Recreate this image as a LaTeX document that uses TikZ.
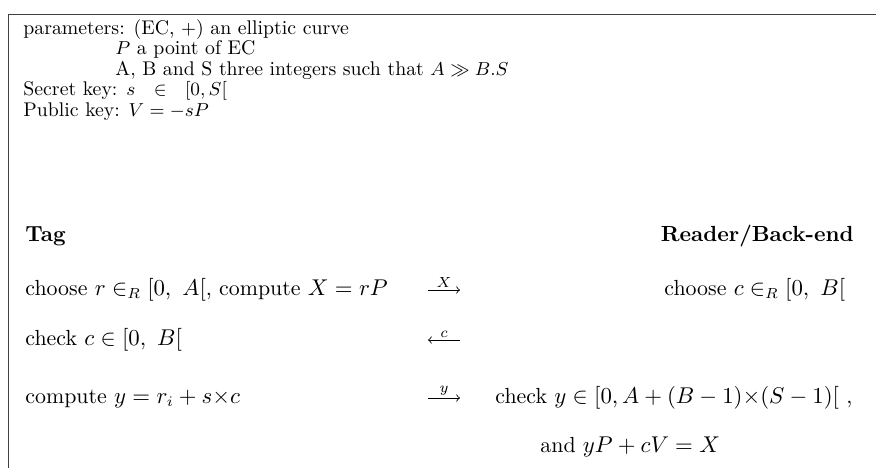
\documentclass[tikz,border=0pt]{standalone}
\usepackage{amssymb}
\usetikzlibrary{positioning}
\newcommand\paramfont{\fontsize{9.5}{11}\selectfont}
\newcommand\protofont{\fontsize{10.5}{12.5}\selectfont}
\begin{document}
\begin{tikzpicture}[x=0.48pt, y=-0.48pt,
    % --- Styles ---
    ptxt/.style={anchor=base west, inner sep=0pt, font=\paramfont},
    txt/.style={anchor=base west, inner sep=0pt, font=\protofont},
    head/.style={txt, font=\protofont\bfseries},
    % Reader side, right aligned
    rtxt/.style={anchor=base east, inner sep=0pt, font=\protofont\bfseries},
    msg/.style={->, line width=0.4pt},
    msg label/.style={font=\scriptsize, inner sep=1pt, above},
    frame line/.style={draw=black!75, line width=0.9pt}
]
\useasboundingbox (0,0) rectangle (876,468);

%================ FRAME ================
\draw[frame line] (8.5,468) -- (8.5,14.5) -- (876,14.5);

%================ PARAMETERS ================
\node[ptxt] (par) at (23,34) {parameters: (EC, $+$) an elliptic curve};
\node[ptxt] (pt) at (115,54.5) {$P$ a point of EC};
\node[ptxt] (ints) at (115,75) {A, B and S three integers such that $A \gg B.S$};
\node[ptxt] (sk) at (23,95.5) {Secret key: $s\ \ \in\ \ [0,S[$};
\node[ptxt] (pk) at (23,116) {Public key: $V=-sP$};

%================ PARTIES ================
\node[head] (tag) at (25,241) {Tag};
\node[rtxt] (reader) at (854,241) {Reader/Back-end};

%================ PROTOCOL ================
\node[txt] (t1) at (25,295) {choose $r\in_R[0,\ A[$, compute $X=rP$};
\node[txt] (r1) at (664,295) {choose $c\in_R[0,\ B[$};
\node[txt] (t2) at (25,345) {check $c\in[0,\ B[$};
\node[txt] (t3) at (25,403) {compute $y=r_i+s{\times}c$};
\node[txt] (r3) at (495,403) {check $y\in[0,A+(B-1){\times}(S-1)[$\ ,};
\node[txt] (r4) at (540,452) {and $yP+cV=X$};

% arrow ends
\foreach \n/\y in {1/290, 2/340, 3/398} {
    \coordinate (a\n) at (428,\y);
    \coordinate (b\n) at (460,\y);
}
\draw[msg] (a1) -- node[msg label] {$X$} (b1);
\draw[msg] (b2) -- node[msg label] {$c$} (a2);
\draw[msg] (a3) -- node[msg label] {$y$} (b3);

\end{tikzpicture}
\end{document}
